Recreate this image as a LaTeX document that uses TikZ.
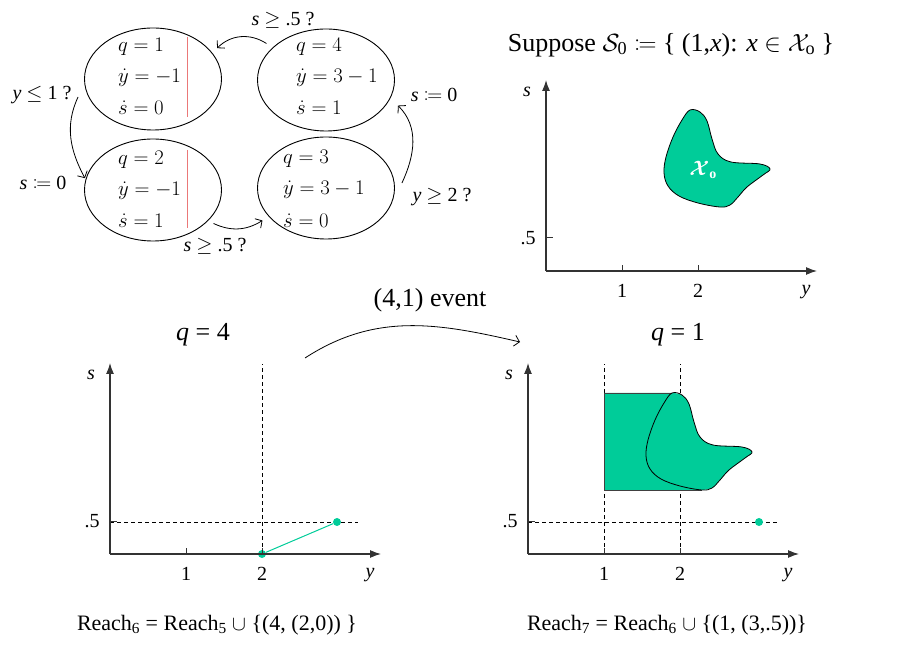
\documentclass[tikz,border=0pt]{standalone}
\usepackage{bm}
\usepackage{mathtools}
\usepackage{fontspec}
\setmainfont{Liberation Serif}
\usetikzlibrary{shapes.geometric,arrows.meta}

\definecolor{reachgreen}{RGB}{0,204,153}
\definecolor{edgered}{RGB}{235,120,120}

\tikzset{
  xoshape/.pic={
    \path[pic actions] plot[smooth cycle,tension=0.6] coordinates {(144,161) (154,159) (161,150) (166,132) (172,117) (185,109) (214,107) (224,102) (217,96) (201,84) (192,74) (184,66) (174,64) (152,68) (133,75) (122,85) (118,98) (120,114) (127,134) (136,151)};
  }
}

\begin{document}
\begin{tikzpicture}[x=1pt,y=1pt,>={Straight Barb[length=5pt,width=11pt]},
  mode/.style={draw,ellipse,line width=0.9pt,minimum width=137pt,minimum height=102pt,inner sep=0pt},
  stxt/.style={anchor=west,inner sep=0pt,font=\fontsize{20}{24}\selectfont},
  guard/.style={inner sep=0pt,font=\fontsize{20}{24}\selectfont},
  big/.style={inner sep=0pt,font=\fontsize{26}{30}\selectfont},
  ticklbl/.style={inner sep=0pt,font=\fontsize{20}{24}\selectfont},
  reach/.style={inner sep=0pt,font=\fontsize{22}{26}\selectfont},
  axisline/.style={line width=1.2pt,black!80,-{Latex[length=11pt,width=8pt]}},
  guide/.style={dash pattern=on 4pt off 3pt,line width=0.8pt},
  ptdot/.style={circle,fill=reachgreen,inner sep=0pt,minimum size=8pt},
  trans/.style={->,line width=0.8pt}]
\useasboundingbox (0,0) rectangle (923,656);

% hybrid automaton
\node[mode] (q1) at (153,577) {};
\node[mode] (q4) at (326,576) {};
\node[mode] (q2) at (153,466) {};
\node[mode] (q3) at (326,468) {};
\node[stxt] (t1a) at (118,609) {$q=1$};
\node[stxt] (t1b) at (118,578) {$\dot y=-1$};
\node[stxt] (t1c) at (118,548) {$\dot s=0$};
\node[stxt] (t4a) at (296,609) {$q=4$};
\node[stxt] (t4b) at (296,578) {$\dot y=3-1$};
\node[stxt] (t4c) at (296,548) {$\dot s=1$};
\node[stxt] (t2a) at (118,496) {$q=2$};
\node[stxt] (t2b) at (118,465) {$\dot y=-1$};
\node[stxt] (t2c) at (118,435) {$\dot s=1$};
\node[stxt] (t3a) at (283,497) {$q=3$};
\node[stxt] (t3b) at (283,466) {$\dot y=3-1$};
\node[stxt] (t3c) at (283,435) {$\dot s=0$};
\draw[edgered,line width=0.8pt] (187,619) -- (187,539) (187,506) -- (187,428);

\draw[trans] ([xshift=-5pt,yshift=5pt]q4.150) to[out=147,in=45] ([xshift=8pt,yshift=1pt]q1.28);
\draw[trans] ([xshift=-6pt,yshift=-18pt]q1.west) to[out=245,in=118] ([xshift=-1pt]q2.170);
\draw[trans] ([xshift=6pt,yshift=-2pt]q2.-30) to[out=-25,in=212] ([xshift=-9pt,yshift=-1pt]q3.210);
\draw[trans] ([xshift=7pt,yshift=5pt]q3.east) to[out=65,in=-45] ([xshift=10pt,yshift=-3pt]q4.-20);

\node[guard] (g41) at (283,636) {\textit{s} $\geq$ .5 ?};
\node[guard] (g12) at (42,561) {\textit{y} $\leq$ 1 ?};
\node[guard] (r12) at (43,473) {\textit{s} $\coloneqq$ 0};
\node[guard] (g23) at (215,410) {\textit{s} $\geq$ .5 ?};
\node[guard] (r34) at (434,561) {\textit{s} $\coloneqq$ 0};
\node[guard] (g34) at (442,459) {\textit{y} $\geq$ 2 ?};

% the three (y,s) planes
\coordinate (pa) at (546,385);
\coordinate (pb) at (110,102);
\coordinate (pc) at (528,102);

\node[big] (init) at (671,611) {Suppose $\mathcal{S}_{\textrm{0}} \coloneqq$ \{ (1,\textit{x}): \textit{x} $\in \mathcal{X}_{\textrm{o}}$ \}};

% before the jump
\begin{scope}[shift={(pb)}]
  \draw[guide] (152,0) -- (152,190);
  \draw[guide] (0,32) -- (248,32);
  \node[ptdot] (d0) at (152,0) {};
  \node[ptdot] (d1) at (227,32) {};
  \draw[reachgreen,line width=1pt] (d0) -- (d1);
\end{scope}

% after the jump
\begin{scope}[shift={(pc)}]
  \draw[guide] (76,0) -- (76,190) (152,0) -- (152,190);
  \draw[guide] (0,32) -- (250,32);
  \fill[reachgreen] (76,161) -- (76,64) -- plot[smooth,tension=0.6] coordinates {(174,64) (184,66) (192,74) (201,84) (217,96) (224,102) (214,107) (185,109) (172,117) (166,132) (161,150) (154,159) (144,161)} -- cycle;
  \draw[line width=0.8pt,black!75] (144,161) -- (76,161) -- (76,64) -- (174,64);
  \pic[draw=black,line width=0.8pt] {xoshape};
  \node[ptdot] (d2) at (231,32) {};
\end{scope}

\begin{scope}[shift={(pa)}]
  \pic[draw=black,fill=reachgreen,line width=0.8pt] {xoshape};
  \node[text=white,inner sep=0pt,font=\fontsize{20}{24}\selectfont] (xo) at (157,101) {$\bm{\mathcal{X}}_{\textbf{o}}$};
\end{scope}

\foreach \p in {pa,pb,pc}{
  \begin{scope}[shift={(\p)}]
    \draw[axisline] (0,0) -- (271,0);
    \draw[axisline] (0,0) -- (0,191);
    \draw[line width=1pt,black!80] (76,0) -- (76,6) (152,0) -- (152,6) (0,33) -- (7,33);
    \node[ticklbl] (\p-one) at (76,-20) {1};
    \node[ticklbl] (\p-two) at (152,-20) {2};
    \node[ticklbl] (\p-y) at (260,-21) {\textit{y}};
    \node[ticklbl] (\p-half) at (-18,33) {.5};
    \node[ticklbl] (\p-s) at (-19,179) {\textit{s}};
  \end{scope}
}

% the jump
\coordinate (ev0) at (305,298);
\coordinate (ev1) at (520,314);
\draw[trans] (ev0) to[out=33,in=167] (ev1);
\node[big] (evt) at (430,356) {(4,1) event};
\node[big] (qa) at (203,321) {\textit{q} = 4};
\node[big] (qb) at (678,321) {\textit{q} = 1};

\node[reach] (rb) at (217,31) {Reach\textsubscript{6} = Reach\textsubscript{5} $\cup$ \{(4, (2,0)) \}};
\node[reach] (rc) at (667,31) {Reach\textsubscript{7} = Reach\textsubscript{6} $\cup$ \{(1, (3,.5))\}};
\end{tikzpicture}
\end{document}
